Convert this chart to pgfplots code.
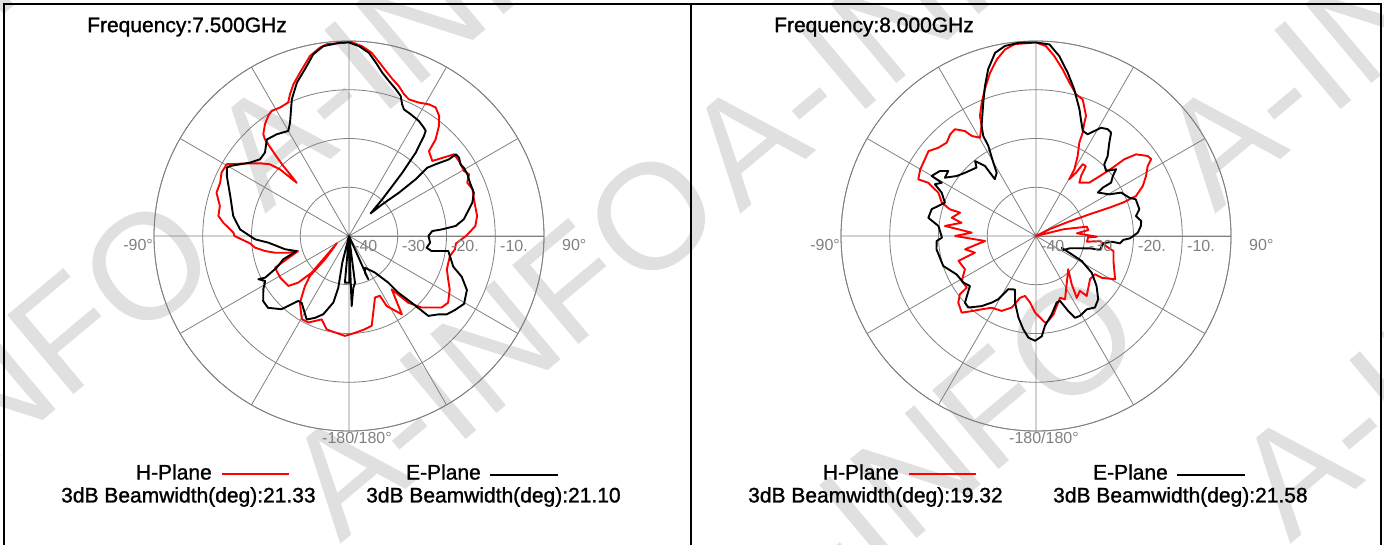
\documentclass[border=0pt]{standalone}
\usepackage{pgfplots}
\pgfplotsset{compat=1.18}
\usepgfplotslibrary{polar}
\usepackage{pgfplotstable}
\usepackage{fontspec}
\setmainfont{Liberation Sans}
\newfontfamily\heavyfont{Liberation Sans}[FakeBold=1.2]

% 7.5 GHz, H-plane (az clockwise from top, dB)
\pgfplotstableread{
az db
0 0
4 -1.0
7 -2.1
10 -3.9
12 -5.0
15.5 -6.6
18.4 -7.6
21.2 -8.8
23.7 -9.4
27.7 -9.1
31.3 -8.4
34 -8.2
36.9 -9.2
39.3 -10.9
41.9 -13.4
43.3 -16.1
48 -17.0
51.3 -13.7
52.1 -12.7
55.7 -12.7
60.5 -12.9
62.8 -12.3
65.7 -13.4
69.3 -12.9
73.7 -13.3
81.1 -13.4
85.5 -14.0
90 -16.0
94 -18.0
97.2 -18.1
101.2 -18.9
108.8 -18.8
113.6 -17.8
118 -16.6
123.9 -15.5
127.7 -16.0
134.6 -19.1
138.4 -21.7
141.3 -26.0
146 -20.6
151.7 -23.7
152.7 -26.2
157.1 -26.3
165.8 -21.0
170.3 -20.6
176.4 -20.1
179.4 -19.8
-177.7 -19.5
-171.8 -20.0
-166.6 -20.3
-161.9 -22.0
-154.9 -20.4
-150.4 -20.4
-143.7 -23.0
-138.7 -26.3
-135.7 -28.5
-134.2 -33.1
-121 -37.1
-134.5 -29.3
-132.6 -25.9
-129.5 -23.9
-121.1 -23.5
-113.2 -23.5
-106.5 -29.1
-105.4 -27.1
-102.7 -24.4
-100.1 -22.5
-97.1 -20.6
-94.2 -19.6
-90 -16.5
-88.4 -16.3
-84 -14.1
-81.3 -12.9
-76.9 -12.8
-71.9 -11.4
-67.5 -11.4
-63.6 -10.8
-59.6 -10.9
-55.6 -13.7
-50.8 -16.4
-47.8 -18.1
-46 -20.3
-44.5 -24.7
-43.7 -22.5
-43.2 -20.3
-42.2 -17.4
-41.4 -15.0
-41 -13.7
-40.1 -12.7
-36.9 -11.3
-33.9 -10.3
-31.7 -9.8
-28.3 -10.1
-24.5 -9.9
-22.6 -8.5
-20.2 -6.9
-16.7 -5.0
-12.2 -2.2
-8.8 -0.9
-6.6 -0.4
-0.7 -0.3
0 0
}\hA

% 7.5 GHz, E-plane
\pgfplotstableread{
az db
0 -0.3
3 -1.0
6.2 -2.2
8.8 -4.0
11.5 -5.8
14.5 -7.2
17.7 -8.4
20.3 -9.4
22 -10.9
23.5 -11.7
26.9 -12.0
31.3 -12.4
34.7 -13.0
36.1 -13.3
36.9 -14.4
37.5 -15.9
38.7 -18.1
39.3 -20.6
40.1 -23.0
40.9 -26.4
42.2 -29.8
43.7 -33.6
46.4 -30.6
49.1 -26.4
49.6 -22.0
48.9 -18.7
50.4 -16.9
52.5 -14.2
52.6 -12.4
54.6 -12.3
57.3 -12.8
59.3 -12.6
62.5 -12.6
64.7 -12.8
67 -12.9
70.9 -12.9
74.9 -13.8
78.9 -15.3
81.7 -16.2
84.6 -18.0
85.9 -20.8
86.6 -22.9
90 -23.7
94.7 -23.3
98.6 -23.9
100.3 -22.8
98.6 -19.4
106.4 -17.7
109.9 -15.4
114.6 -13.4
120.5 -12.6
125 -13.5
128.7 -14.3
131.2 -15.6
135.2 -16.9
136.8 -21.2
139 -24.6
139.9 -27.5
144.7 -30.8
153.2 -32.7
156.4 -31.8
156 -30.3
160 -40
172.7 -30.3
175.3 -29.3
177.8 -25.6
178.5 -38
179.5 -30.4
-175 -30.4
-173 -40
-165.9 -34.4
-168.3 -29.2
-166.8 -26.0
-161.8 -23.1
-157.4 -21.8
-153.1 -20.8
-150.7 -21.6
-144.7 -23.2
-142 -23.1
-137.4 -19.6
-131.6 -17.8
-127.2 -17.9
-121.9 -19.3
-118.2 -20.5
-115.5 -19.4
-116.4 -20.8
-113.7 -23.8
-109.5 -25.7
-106 -28.8
-101.7 -26.6
-94.7 -23.4
-92 -20.7
-90 -19.7
-86.5 -17.6
-80.2 -15.9
-71.4 -14.3
-63.9 -12.1
-60.8 -11.3
-59.5 -11.7
-53.5 -14.7
-49.2 -15.9
-45.2 -15.7
-40.4 -14.0
-35.4 -14.4
-30 -15.1
-27.5 -13.8
-22.7 -9.6
-18.8 -6.8
-14 -4.1
-11.1 -2.0
-7.7 -0.7
-2.7 -0.3
0 -0.3
}\eA

% 8.0 GHz, H-plane
\pgfplotstableread{
az db
0 -0.3
3 -1.0
5.8 -2.9
9.1 -5.4
12.3 -7.8
15.8 -9.8
18.9 -10.4
22.6 -13.3
23.1 -14.7
24.3 -16.7
24.9 -18.9
27.5 -21.5
29.9 -24.2
30.4 -26.5
32.3 -24.6
33.1 -22.4
35.5 -22.4
36.9 -24.6
39.1 -25.9
45 -24.5
47.2 -21.4
48.3 -18.9
49 -16.0
50.8 -13.5
54.4 -11.8
56.3 -11.6
58 -13.0
61.4 -14.3
64.9 -15.8
68.2 -17.9
69 -20.9
68.9 -23.9
67.9 -28.2
66.1 -33.3
63.3 -36.9
66 -40
76.2 -34.2
79.6 -29.4
83.5 -29.2
86.2 -31.6
90.7 -27.5
91.5 -29.3
96.4 -29.5
94.5 -26.8
98.6 -25.3
101 -23.8
107.9 -23.3
118.7 -21.5
122.4 -24.0
123 -25.6
128.7 -25.8
139.8 -23.9
141.3 -25.6
146.6 -24.8
143.5 -27.7
135.9 -30.5
155.4 -25.7
158.7 -26.4
167.5 -23.5
171.8 -22.4
174 -22.1
-179.3 -24.3
-174.9 -26.3
-169.6 -27.5
-165.5 -26.9
-161.3 -24.5
-155.4 -23.1
-148.3 -22.7
-143.5 -21.3
-139.4 -19.7
-135.9 -18.1
-130.6 -19.0
-127.5 -20.3
-126.7 -22.3
-121.2 -22.2
-115.1 -23.9
-107.8 -23.3
-105.3 -27.0
-100.6 -25.2
-95.6 -29.5
-90 -23.4
-87 -26.8
-83.7 -21.2
-79.9 -24.5
-77.8 -22.3
-72.9 -23.7
-72.8 -21.5
-70.5 -19.5
-66.1 -18.1
-63.7 -15.3
-64.3 -13.2
-60.1 -12.6
-55.4 -12.3
-51.7 -11.9
-47.9 -13.0
-43.7 -13.5
-40.2 -12.7
-37.2 -12.5
-34.1 -14.0
-32.7 -15.6
-29.7 -16.8
-26.3 -14.8
-25 -12.8
-22.2 -10.5
-19.2 -8.1
-15.7 -5.2
-12.5 -2.9
-9.4 -1.2
-6.3 -0.4
0 -0.3
}\hB

% 8.0 GHz, E-plane
\pgfplotstableread{
az db
0 -0.3
4 -0.6
7.4 -2.8
11 -5.9
14.6 -8.9
18.9 -12.5
21.1 -14.4
24 -16.4
26.9 -16.6
29 -15.4
31 -14.1
33.9 -13.6
36 -13.8
38.2 -15.7
41.9 -18.0
43.6 -19.7
47.1 -20.4
50.2 -18.6
52 -20.0
54.6 -21.1
54.1 -23.1
54.9 -24.5
60.4 -22.7
63 -20.4
67.7 -19.3
69.8 -18.2
75.5 -18.1
78.7 -19.1
81.9 -18.2
84.6 -18.4
88.1 -19.1
91.4 -20.7
92.6 -22.1
95 -22.7
94.3 -24.4
96.2 -26.1
102.3 -26.6
102.8 -28.6
109.9 -32.6
117.1 -33.7
114.5 -34.2
118.7 -29.3
123.4 -26.3
129.5 -23.9
135.5 -21.8
140.5 -21.0
145.3 -21.7
151.2 -21.3
154.5 -21.4
156.7 -23.2
159.7 -25.8
162.8 -25.7
168.7 -23.6
174.3 -21.5
176.7 -19.4
-179.5 -18.5
-175.7 -19.1
-172.2 -20.7
-167.8 -22.9
-162.5 -25.7
-158.5 -28.2
-152.5 -27.7
-149.2 -24.9
-146.4 -23.6
-142.2 -21.8
-136.6 -19.8
-133.2 -20.0
-127.1 -23.0
-122.7 -22.3
-115.8 -21.9
-107.9 -20.0
-97.6 -19.4
-92.9 -19.6
-91 -20.7
-84.2 -19.9
-80.4 -17.6
-75.6 -17.9
-69.9 -20.1
-65.3 -18.7
-62.9 -16.7
-60.5 -17.8
-60.1 -15.3
-55.9 -16.2
-53.5 -17.6
-57.4 -17.8
-52.9 -19.6
-48.3 -20.5
-41 -21.4
-39.1 -20.2
-36.1 -22.2
-35.9 -25.6
-31.8 -24.7
-30.2 -22.6
-27.9 -19.1
-27.8 -16.8
-26.3 -14.8
-21.6 -10.6
-18.8 -7.5
-16 -4.4
-12.6 -1.5
-9.3 -0.5
-5.2 -0.2
0 -0.3
}\eB

\pgfplotsset{
  pattern axis/.style={
    scale only axis, width=390pt, height=390pt,
    anchor=center,
    ymin=0, ymax=40,
    xtick={0,30,...,330}, ytick={10,20,30,40},
    xticklabels={}, yticklabels={},
    major tick length=0pt,
    grid=major,
    major grid style={draw=gray, line width=0.8pt},
    axis line style={draw=gray, line width=0.8pt},
  },
  hplane/.style={red, line width=1.9pt, mark=none, line join=round},
  eplane/.style={black, line width=1.9pt, mark=none, line join=round},
}

\newcommand\bigfont{\heavyfont\fontsize{21}{25}\selectfont}
\newcommand\smallfont{\fontsize{16}{19}\selectfont}

\begin{document}
\begin{tikzpicture}
\path[use as bounding box] (0pt,0pt) rectangle (1384pt,-545pt);

% watermark
\begin{scope}[x=1pt, y=-1pt]
\foreach \wx/\wy in {-235/215, 265/215, 740/215, 1215/215, -165/595, 340/545, 760/670, 1290/545} {
  \node[anchor=base west, inner sep=0pt, rotate=40, text=black!12,
        font=\fontsize{150}{150}\selectfont] at (\wx,\wy) {A-INFO};
}
\end{scope}

\begin{polaraxis}[pattern axis, at={(349pt,-236pt)}]
\addplot[hplane] table[x expr={90-\thisrow{az}}, y expr={\thisrow{db}+40}] {\hA};
\addplot[eplane] table[x expr={90-\thisrow{az}}, y expr={\thisrow{db}+40}] {\eA};
\end{polaraxis}

\begin{polaraxis}[pattern axis, at={(1036pt,-236pt)}]
\addplot[hplane] table[x expr={90-\thisrow{az}}, y expr={\thisrow{db}+40}] {\hB};
\addplot[eplane] table[x expr={90-\thisrow{az}}, y expr={\thisrow{db}+40}] {\eB};
\end{polaraxis}

\begin{scope}[x=1pt, y=-1pt]
\draw[line width=2pt] (4,545) -- (4,4) -- (1381,4) -- (1381,545);
\draw[line width=2pt] (691,4) -- (691,545);

\foreach \dx/\freq/\bh/\be in {0/7.500/21.33/21.10, 687/8.000/19.32/21.58} {
  \begin{scope}[xshift=\dx pt]
  \node[anchor=west, inner sep=0pt, font=\bigfont] at (87,27) {Frequency:\freq GHz};
  \node[anchor=east, inner sep=0pt, text=gray, font=\smallfont] at (153,245) {-90°};
  \node[anchor=west, inner sep=0pt, text=gray, font=\smallfont] at (562,245) {90°};
  \node[anchor=center, inner sep=0pt, text=gray, font=\smallfont] at (357,438) {-180/180°};
  \node[anchor=west, inner sep=0pt, text=gray, font=\smallfont] at (354,246) {-40};
  \node[anchor=west, inner sep=0pt, text=gray, font=\smallfont] at (402,246) {-30};
  \node[anchor=west, inner sep=0pt, text=gray, font=\smallfont] at (451,246) {-20.};
  \node[anchor=west, inner sep=0pt, text=gray, font=\smallfont] at (500,246) {-10.};
  \node[anchor=east, inner sep=0pt, font=\bigfont] at (212,472) {H-Plane};
  \draw[red, line width=2pt] (222,474) -- (289,474);
  \node[anchor=east, inner sep=0pt, font=\bigfont] at (481,472) {E-Plane};
  \draw[black, line width=2pt] (490,475) -- (558,475);
  \node[anchor=west, inner sep=0pt, font=\bigfont] at (61,497) {3dB Beamwidth(deg):\bh};
  \node[anchor=west, inner sep=0pt, font=\bigfont] at (366,497) {3dB Beamwidth(deg):\be};
  \end{scope}
}
\end{scope}
\end{tikzpicture}
\end{document}
